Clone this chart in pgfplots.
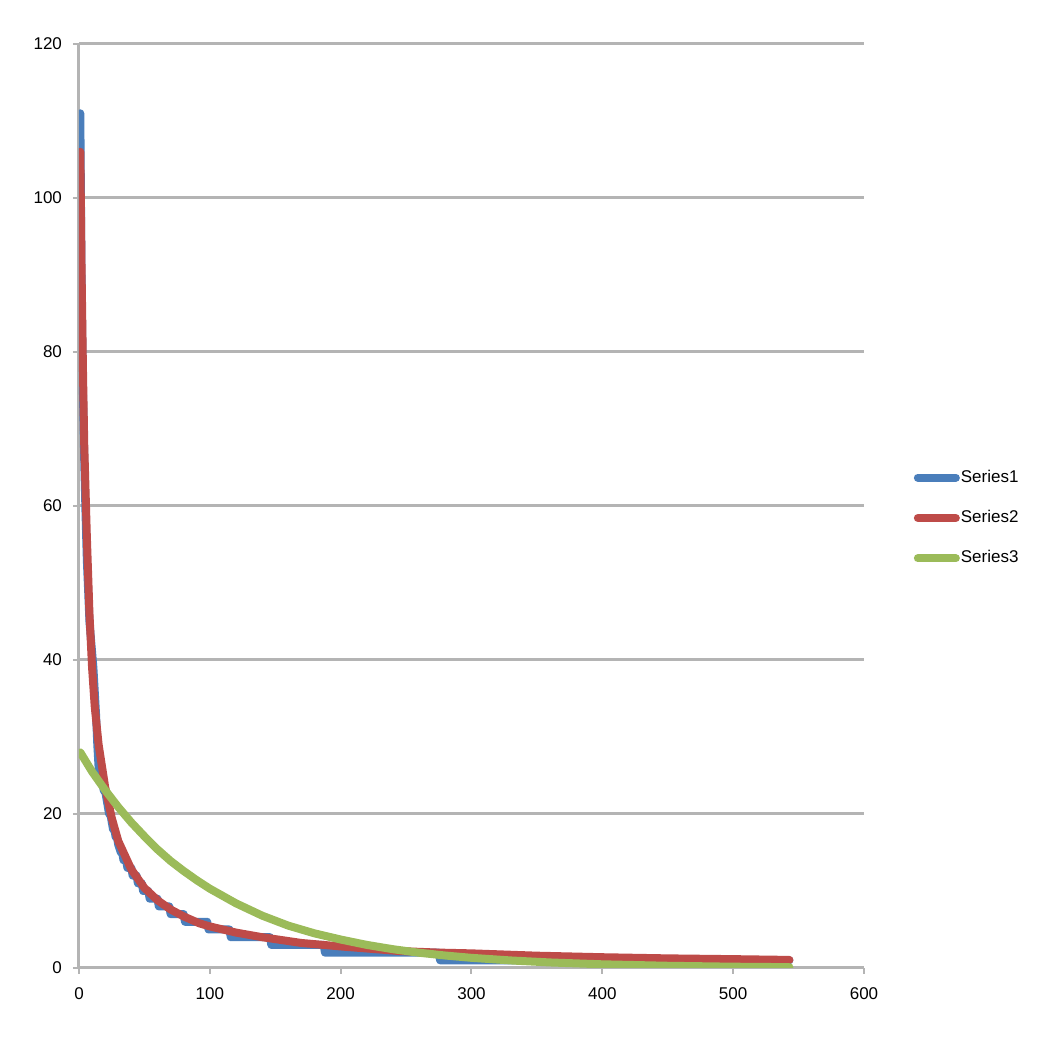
\documentclass[border=0pt]{standalone}
\usepackage{fontspec}
\setmainfont{Liberation Sans}
\usepackage{pgfplots}
\pgfplotsset{compat=1.18}
\definecolor{s1}{RGB}{74,126,187}
\definecolor{s2}{RGB}{190,75,72}
\definecolor{s3}{RGB}{155,187,89}
\definecolor{gridgray}{RGB}{180,180,180}

\begin{document}
\begin{tikzpicture}
% page size: 531pt x 520pt, axis box at origin
\useasboundingbox (-39.5pt,-36pt) rectangle (491.5pt,484pt);
\begin{axis}[
  scale only axis, width=392.5pt, height=462pt,
  at={(0,0)}, anchor=south west,
  xmin=0, xmax=600, ymin=0, ymax=120,
  xtick={0,100,...,600}, ytick={0,20,...,120},
  axis x line*=bottom, axis y line*=left,
  axis line style={draw=gridgray, line width=1.5pt},
  ymajorgrids, grid style={draw=gridgray, line width=1.5pt},
  tick style={draw=gridgray, line width=1pt},
  tick align=outside, major tick length=3pt,
  tick label style={font=\fontsize{8.5}{10}\selectfont},
  /pgf/number format/assume math mode=true,
  yticklabel style={xshift=-2pt},
  xticklabel style={yshift=-3.5pt},
  legend style={at={(axis description cs:1.063,0.487)}, anchor=west,
                draw=none, fill=none, inner sep=0pt, row sep=11.5pt,
                nodes={inner sep=0.5pt},
                /tikz/every odd column/.style={column sep=0pt},
                font=\fontsize{8.5}{10}\selectfont},
  legend cell align=left,
  legend image code/.code={\draw[#1, line cap=round] (0pt,0pt) -- (19pt,0pt);},
  every axis plot/.append style={line width=4pt, line join=round, line cap=round},
]
% Series1: stepped integer counts
\addplot[s1] coordinates {
 (1,111)(2,88)(3,75)(4,66)(5,59)(6,53)(7,49)(8,45)(9,43)(10,41)
 (11,39)(12,36)(13,33)(14,29)(15,26)(16,25)(17,25)(18,24)(19,23)(20,23)
 (21,22)(22,21)(23,20)(24,20)(25,19)(26,18)(27,18)(28,17)(29,17)(30,16)
 (32,15)(33,15)(34,14)(36,14)(37,13)(40,13)(41,12)(44,12)(45,11)(48,11)
 (49,10)(53,10)(54,9)(60,9)(61,8)(69,8)(70,7)(80,7)(81,6)(98,6)
 (99,5)(115,5)(116,4)(146,4)(147,3)(187,3)(188,2)(275,2)(276,1)(543,1)
};
\addlegendentry{Series1}
% Series2: smooth fit
\addplot[s2] coordinates {
 (1,106)(2,90)(3,78)(4,68)(5,62)(6,56)(8,46)(10,39)(12,34)(15,29)
 (20,23.5)(25,19.5)(30,16.5)(40,12.8)(50,10.4)(60,8.8)(70,7.6)(80,6.7)
 (92,5.8)(100,5.4)(120,4.6)(140,4.0)(160,3.5)(170,3.25)(200,2.8)(245,2.2)
 (275,2.0)(300,1.9)(350,1.6)(400,1.4)(450,1.25)(500,1.15)(543,1.05)
};
\addlegendentry{Series2}
% Series3: exponential-looking decay
\addplot[s3] coordinates {
 (1,28.0)(10,25.5)(20,23.1)(30,20.9)(40,18.9)(50,17.1)(60,15.4)(70,13.9)
 (80,12.6)(90,11.4)(100,10.3)(120,8.4)(140,6.8)(160,5.5)(180,4.5)(200,3.7)
 (220,3.0)(240,2.44)(260,1.98)(280,1.62)(300,1.32)(330,0.98)(360,0.72)
 (400,0.48)(450,0.29)(500,0.17)(543,0.11)
};
\addlegendentry{Series3}
\end{axis}
\end{tikzpicture}
\end{document}
